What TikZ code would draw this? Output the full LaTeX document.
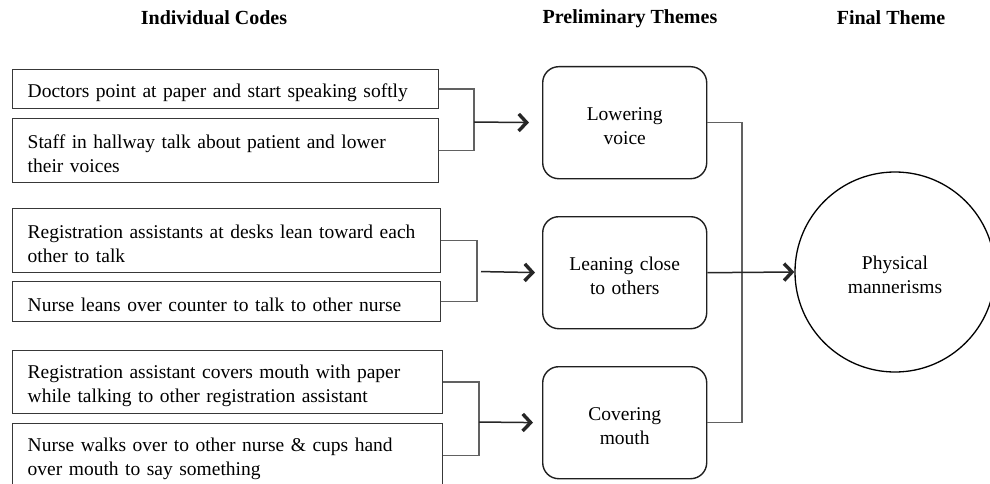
\documentclass[tikz,border=0pt]{standalone}
\usepackage{fontspec}
\setmainfont{Liberation Serif}
\usetikzlibrary{arrows.meta}
\begin{document}
\begin{tikzpicture}[x=1pt,y=-1pt,
  lower/.style={execute at begin node={\rule{0pt}{20pt}}},
  codebox/.style={draw=black!78, line width=1.4pt, minimum height=#1, inner xsep=15pt, inner ysep=0pt,
    align=left, text width=400pt, font=\fontsize{19.5}{24}\selectfont, anchor=north west, lower},
  codebox/.default=39pt,
  theme/.style={draw=black!88, line width=1.4pt, rounded corners=16pt, minimum width=164pt, minimum height=112pt,
    inner xsep=10pt, text width=144pt, align=center, font=\fontsize{19.5}{24}\selectfont, anchor=north west, lower},
  final/.style={draw=black, line width=1.3pt, circle, minimum size=200pt, inner sep=0pt, text width=160pt,
    align=center, font=\fontsize{19.5}{24}\selectfont, lower},
  head/.style={font=\fontsize{20}{22}\selectfont\bfseries},
  brk/.style={draw=black!62, line width=1.5pt},
  arr/.style={draw=black!85, line width=1.5pt, -{Straight Barb[length=8pt,width=17pt,line width=3.4pt]}}
]
\useasboundingbox (0,0) rectangle (990,484);
\fill[white] (0,0) rectangle (990,484);
% headers
\node[head] (h1) at (214,18) {Individual Codes};
\node[head] (h2) at (630,18.5) {Preliminary Themes};
\node[head] (h3) at (891,18) {Final Theme};
% code boxes
\node[codebox=39pt, text width=396pt] (c1) at (12,69) {Doctors point at paper and start speaking softly};
\node[codebox=64pt, text width=396pt] (c2) at (12,118) {Staff in hallway talk about patient and lower\\their voices};
\node[codebox=64pt, text width=398pt] (c3) at (12,208) {Registration assistants at desks lean toward each\\other to talk};
\node[codebox=40pt, text width=398pt] (c4) at (12,281) {Nurse leans over counter to talk to other nurse};
\node[codebox=63pt, text width=400pt] (c5) at (12,350) {Registration assistant covers mouth with paper\\while talking to other registration assistant};
\node[codebox=64pt, text width=400pt] (c6) at (12,423) {Nurse walks over to other nurse \& cups hand\\over mouth to say something};
% theme boxes
\node[theme] (t1) at (542,66) {Lowering\\voice};
\node[theme] (t2) at (542,216) {Leaning close\\to others};
\node[theme] (t3) at (542,366) {Covering\\mouth};
% final
\node[final] (f) at (895,272) {Physical\\mannerisms};
% brackets
\coordinate (j1) at (474,122);
\coordinate (j2) at (477,271.5);
\coordinate (j3) at (479,422);
\coordinate (j4) at (742,272);
\draw[brk] (c1.east) -| (j1) |- (c2.east);
\draw[brk] (c3.east) -| (j2) |- (c4.east);
\draw[brk] (c5.east) -| (j3) |- (c6.east);
\draw[brk] (t1.east) -| (j4) |- (t3.east);
% arrows
\draw[arr, shorten >=13pt] (j1) -- (t1.west);
\draw[arr, shorten <=4pt, shorten >=7pt] (j2) -- (t2.west);
\draw[arr, shorten >=9pt] (j3) -- (t3.west);
\draw[arr] (t2.east) -- (f.west);
\end{tikzpicture}
\end{document}
